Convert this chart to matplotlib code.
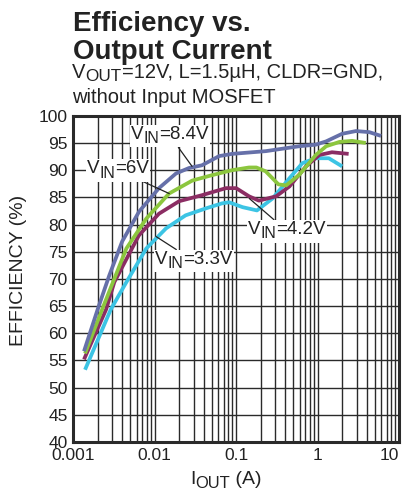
import matplotlib
matplotlib.use('Agg')
import matplotlib.pyplot as plt
from matplotlib.offsetbox import TextArea, HPacker, VPacker, DrawingArea, AnnotationBbox

plt.rcParams['font.family'] = ['Liberation Sans', 'DejaVu Sans']

# data (I_OUT in A, efficiency in %)
i_84 = [0.00136, 0.002, 0.00277, 0.004, 0.00645, 0.0113, 0.0183, 0.0264, 0.038,
        0.062, 0.089, 0.23, 0.59, 0.95, 1.27, 2.0, 2.95, 4.3, 6.0]
e_84 = [56.7, 64.4, 70.6, 76.9, 82.4, 86.7, 89.4, 90.4, 90.9,
        92.6, 93.0, 93.5, 94.4, 94.7, 95.3, 96.7, 97.2, 97.0, 96.3]

i_6 = [0.0014, 0.00227, 0.0045, 0.0079, 0.015, 0.029, 0.051, 0.089, 0.144,
       0.177, 0.23, 0.33, 0.41, 0.59, 0.95, 1.27, 1.85, 2.65, 3.9]
e_6 = [56.3, 64.4, 75.6, 81.1, 85.7, 88.1, 89.1, 90.0, 90.5,
       90.5, 89.8, 87.4, 87.2, 89.1, 92.8, 94.4, 95.2, 95.4, 95.0]

i_42 = [0.00136, 0.00254, 0.0032, 0.0064, 0.0113, 0.02, 0.038, 0.075, 0.1,
        0.144, 0.19, 0.31, 0.45, 0.72, 1.05, 1.5, 2.4]
e_42 = [55.2, 64.4, 69.4, 78.0, 82.0, 84.3, 85.4, 86.7, 86.7,
        85.2, 84.4, 85.2, 87.0, 90.7, 92.8, 93.3, 93.0]

i_33 = [0.0014, 0.0029, 0.0045, 0.0079, 0.0138, 0.024, 0.043, 0.067, 0.082,
        0.12, 0.18, 0.28, 0.45, 0.65, 0.95, 1.37, 2.0]
e_33 = [53.3, 64.4, 69.4, 75.6, 79.3, 81.7, 83.0, 83.9, 84.1,
        83.2, 82.6, 84.8, 88.5, 91.3, 92.2, 92.2, 90.7]

yticks = list(range(40, 101, 5))
xticks = [0.001, 0.01, 0.1, 1, 10]
xticklabels = ['0.001', '0.01', '0.1', '1', '10']

TXT = '#222222'


def sub_text(main, sub, rest, size):
    # big, well-lowered subscript like the datasheet artwork
    t1 = TextArea(main, textprops=dict(fontsize=size, color=TXT))
    t2 = TextArea(sub, textprops=dict(fontsize=size * 0.85, color=TXT))
    t3 = TextArea(rest, textprops=dict(fontsize=size, color=TXT))
    low = VPacker(children=[DrawingArea(0, size * 0.3), t2], pad=0, sep=0)
    return HPacker(children=[t1, low, t3], align='top', pad=0, sep=0)


fig = plt.figure(figsize=(4.04, 4.95), dpi=100)
ax = fig.add_axes([0.181, 0.107, 0.807, 0.659])

ax.set_xscale('log')
ax.set_xlim(0.001, 10)
ax.set_ylim(40, 100)

grid_kw = dict(color='#2a2a2a', lw=1.0, zorder=1)
for dec in [0.001, 0.01, 0.1, 1]:
    for m in range(1, 10):
        ax.axvline(dec * m, **grid_kw)
for y in yticks:
    ax.axhline(y, **grid_kw)

lw = 2.7
ax.plot(i_33, e_33, color='#3cc4e4', lw=lw, zorder=3, solid_capstyle='butt')
ax.plot(i_42, e_42, color='#8b2d63', lw=lw, zorder=4, solid_capstyle='butt')
ax.plot(i_6, e_6, color='#8cc63e', lw=lw, zorder=5, solid_capstyle='butt')
ax.plot(i_84, e_84, color='#6670a9', lw=lw, zorder=6, solid_capstyle='butt')

arrow = dict(arrowstyle='-', color=TXT, lw=0.9, shrinkA=0, shrinkB=0)
labels = [('=8.4V', (0.0288, 90.7), (0.0155, 96.3)),
          ('=6V', (0.0151, 85.7), (0.00357, 90.0)),
          ('=3.3V', (0.0104, 77.8), (0.0305, 73.3)),
          ('=4.2V', (0.145, 84.8), (0.423, 78.8))]
for rest, tip, pos in labels:
    ab = AnnotationBbox(sub_text('V', 'IN', rest, 13.5), tip, xybox=pos,
                        xycoords='data', boxcoords='data', box_alignment=(0.5, 0.5),
                        frameon=True, pad=0.08,
                        bboxprops=dict(facecolor='white', edgecolor='none'),
                        arrowprops=arrow, zorder=8)
    ax.add_artist(ab)

ax.set_xticks(xticks)
ax.set_xticklabels(xticklabels)
ax.set_xticks([], minor=True)
ax.get_xticklabels()[-1].set_horizontalalignment('right')
ax.set_yticks(yticks)
ax.tick_params(length=0, labelsize=12.5, pad=4, colors=TXT)
for s in ax.spines.values():
    s.set_linewidth(2.2)
    s.set_color('#2a2a2a')
    s.set_zorder(10)

# axis titles
xl = AnnotationBbox(sub_text('I', 'OUT', ' (A)', 14), (226 / 404, 1 - 481 / 495),
                    xycoords='figure fraction', box_alignment=(0.5, 0.5),
                    frameon=False, annotation_clip=False)
fig.add_artist(xl)
fig.text(19 / 404, 1 - 270 / 495, 'EFFICIENCY (%)', rotation=90, fontsize=14,
         ha='center', va='center', color=TXT)

# chart title block
fig.text(73 / 404, 1 - 31 / 495, 'Efficiency vs.', fontsize=20, fontweight='bold',
         va='baseline', ha='left', color=TXT)
fig.text(73 / 404, 1 - 59 / 495, 'Output Current', fontsize=20, fontweight='bold',
         va='baseline', ha='left', color=TXT)
sub1 = AnnotationBbox(sub_text('V', 'OUT', '=12V, L=1.5µH, CLDR=GND,', 14.5),
                      (72 / 404, 1 - 63 / 495), xycoords='figure fraction',
                      box_alignment=(0, 1), frameon=False, annotation_clip=False)
fig.add_artist(sub1)
fig.text(72 / 404, 1 - 103 / 495, 'without Input MOSFET', fontsize=14.5,
         va='baseline', ha='left', color=TXT)

fig.savefig('out.png', dpi=100)
